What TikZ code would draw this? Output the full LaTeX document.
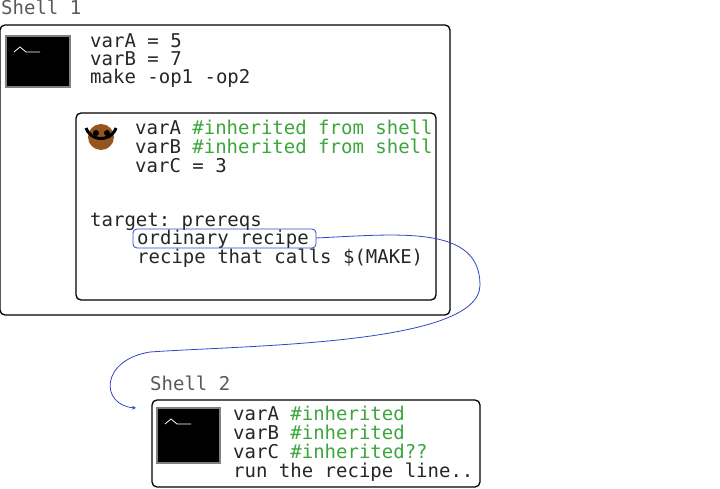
\documentclass[tikz,border=0pt]{standalone}
\usepackage{fontspec}
\setmonofont{DejaVu Sans Mono}
\definecolor{cmtgreen}{RGB}{60,165,60}
\definecolor{penblue}{RGB}{50,70,200}
\definecolor{gnubrown}{RGB}{150,85,30}
\tikzset{
	code/.style={anchor=base west,inner sep=0pt,font=\fontsize{19}{19}\selectfont\ttfamily,text=black!85},
	shellbox/.style={draw,line width=1.3pt,rounded corners=5pt},
	termicon/.style={draw=gray,line width=2pt,fill=black},
}
\begin{document}
\begin{tikzpicture}[x=1pt,y=-1pt]
	\useasboundingbox (0,0) rectangle (720,489);
	% shell 1
	\node[code,text=gray!70!black] (s1) at (1,15) {Shell 1};
	\draw[shellbox] (0,25) rectangle (450,315);
	\draw[termicon] (6,36) rectangle (70,87);
	\draw[white,thick] (14,52) -- (20,47) -- (26,52) -- (40,52);
	\node[code] (a1) at (90,48) {varA = 5};
	\node[code] (b1) at (90,66) {varB = 7};
	\node[code] (m1) at (90,84) {make -op1 -op2};
	% make
	\draw[shellbox] (76,113) rectangle (436,300);
	\fill[gnubrown] (101,137) circle (13pt);
	\draw[line width=3pt,black] (86,128) arc (200:340:16pt);
	\fill[black] (96,133) circle (3pt) (107,133) circle (3pt);
	\node[code] (a2) at (135,135) {varA \textcolor{cmtgreen}{\#inherited from shell}};
	\node[code] (b2) at (135,154) {varB \textcolor{cmtgreen}{\#inherited from shell}};
	\node[code] (c2) at (135,173) {varC = 3};
	\node[code] (t2) at (90,226) {target: prereqs};
	\node[code] (r1) at (137,244) {ordinary recipe};
	\node[code] (r2) at (137,263) {recipe that calls \$(MAKE)};
	\draw[penblue,thick,rounded corners=4pt] (133,229) rectangle (316,248);
	\coordinate (hl) at (316,238);
	% shell 2
	\node[code,text=gray!70!black] (s2) at (150,390) {Shell 2};
	\draw[shellbox] (152,400) rectangle (480,487);
	\draw[termicon] (157,408) rectangle (220,463);
	\draw[white,thick] (165,424) -- (171,419) -- (177,424) -- (191,424);
	\node[code] (a3) at (233,420) {varA \textcolor{cmtgreen}{\#inherited}};
	\node[code] (b3) at (233,439) {varB \textcolor{cmtgreen}{\#inherited}};
	\node[code] (c3) at (233,458) {varC \textcolor{cmtgreen}{\#inherited??}};
	\node[code] (l3) at (233,477) {run the recipe line..};
	\coordinate (tip) at (136,408);
	\draw[penblue,thick,-stealth] (hl) .. controls (400,234) and (480,225) .. (480,285)
		.. controls (480,345) and (250,345) .. (150,352)
		.. controls (100,360) and (100,405) .. (tip);
\end{tikzpicture}
\end{document}
